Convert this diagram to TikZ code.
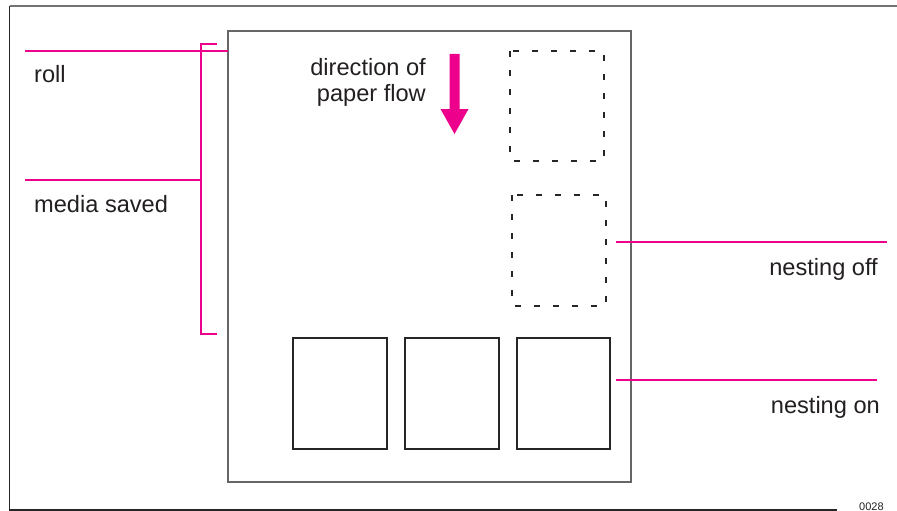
\documentclass[tikz,border=0pt]{standalone}
\usepackage{fontspec}
\setmainfont{Liberation Sans}
\definecolor{mag}{HTML}{EC008C}
\definecolor{txt}{HTML}{231F20}
\begin{document}
\begin{tikzpicture}[x=1pt,y=-1pt,
  magline/.style={draw=mag,line width=1.4pt},
  lbl/.style={inner sep=0pt,font=\fontsize{23.6}{28}\selectfont,text=txt},
  sheet/.style={draw=black!85,line width=1.3pt},
  dashsheet/.style={draw=black!85,line width=1.3pt,dash pattern=on 6pt off 13pt},
  frame/.style={line width=1.4pt}]
\useasboundingbox (0,0) rectangle (897,511);
\fill[white] (0,0) rectangle (897,511);
% outer frame
\draw[frame,draw=black!55] (9.5,6) -- (897,6);
\draw[frame,draw=black!85] (9.5,6) -- (9.5,510) -- (837,510);
\node[inner sep=0pt,anchor=base west,font=\fontsize{11}{13}\selectfont,text=txt] (code) at (859,510) {0028};
% paper
\draw[draw=black!60,line width=1.4pt] (228,31) rectangle (631,482);
% dashed sheets (nesting off)
\draw[dashsheet] (510,51) rectangle (604,161);
\draw[dashsheet] (512,195) rectangle (606,306);
% solid sheets (nesting on)
\draw[sheet] (293,338) rectangle (387,449);
\draw[sheet] (405,338) rectangle (499,449);
\draw[sheet] (517,338) rectangle (610,449);
% arrow
\fill[mag] (449.5,54) -- (459.5,54) -- (459.5,109) -- (468.5,109) -- (454.5,134) -- (440.5,109) -- (449.5,109) -- cycle;
\node[lbl,anchor=base east] (dir1) at (426,75) {direction of};
\node[lbl,anchor=base east] (dir2) at (426,102) {paper flow};
% left labels and bracket
\coordinate (rollL) at (25,51);
\coordinate (rollR) at (228,51);
\coordinate (medL) at (25,180);
\coordinate (brT) at (201,44);
\coordinate (brB) at (201,334);
\coordinate (brM) at (201,180);
\draw[magline] (rollL) -- (rollR);
\draw[magline] (medL) -- (brM);
\draw[magline] (217,44) -- (brT) -- (brB) -- (217,334);
\node[lbl,anchor=base west] (roll) at (34,83) {roll};
\node[lbl,anchor=base west] (media) at (34,212) {media saved};
% right labels
\coordinate (offL) at (616,242);
\coordinate (offR) at (887,242);
\coordinate (onL) at (616,380);
\coordinate (onR) at (877,380);
\draw[magline] (offL) -- (offR);
\draw[magline] (onL) -- (onR);
\node[lbl,anchor=base east] (off) at (878,275) {nesting off};
\node[lbl,anchor=base east] (on) at (880,413) {nesting on};
\end{tikzpicture}
\end{document}
